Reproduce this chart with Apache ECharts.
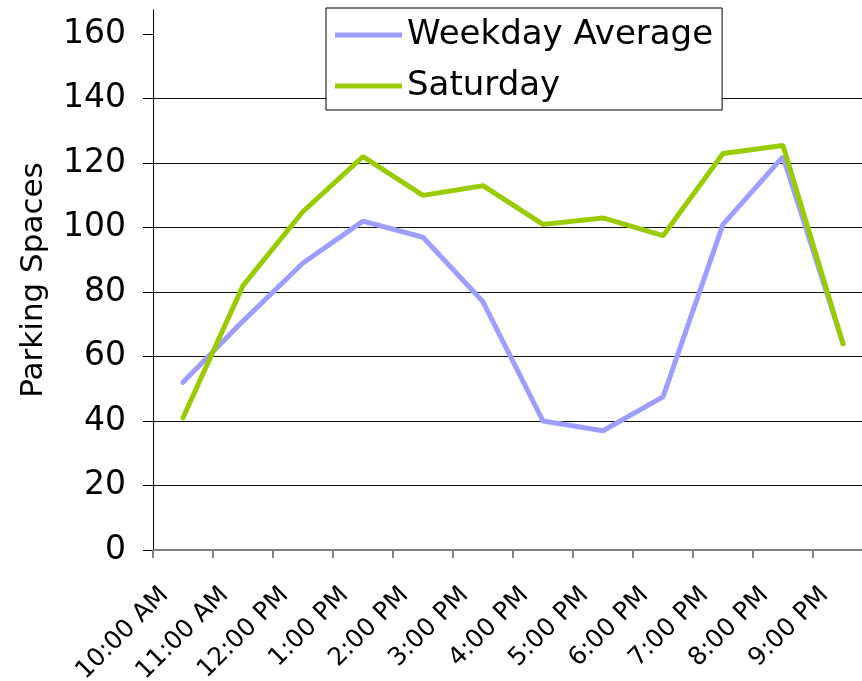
<!DOCTYPE html>
<html>
<head>
<meta charset="utf-8">
<script src="https://cdn.jsdelivr.net/npm/echarts@6/dist/echarts.min.js"></script>
<style>
  html, body { margin: 0; padding: 0; background: #fff; }
  #chart { width: 862px; height: 681px; }
</style>
</head>
<body>
<div id="chart"></div>
<script>
// 时间段
const hours = ['10:00 AM', '11:00 AM', '12:00 PM', '1:00 PM', '2:00 PM', '3:00 PM',
  '4:00 PM', '5:00 PM', '6:00 PM', '7:00 PM', '8:00 PM', '9:00 PM'];
// 工作日平均
const weekdayAvg = [52, 71, 89, 102, 97, 77, 40, 37, 47.5, 101, 122, 64];
// 周六
const saturday = [41, 82, 105, 122, 110, 113, 101, 103, 97.5, 123, 125.5, 64];
// y轴刻度
const yTicks = [0, 20, 40, 60, 80, 100, 120, 140, 160];

const font = 'DejaVu Sans, Verdana, sans-serif';
let myChart = echarts.init(document.getElementById('chart'));

myChart.setOption({
  animation: false,
  grid: {
    left: 153,
    top: 10,
    right: -11,
    bottom: 131,
    containLabel: false,
    outerBoundsMode: 'none'
  },
  legend: {
    orient: 'vertical',
    left: 326,
    top: 8,
    padding: [10, 9, 7, 9],
    itemGap: 17,
    itemWidth: 67,
    itemHeight: 5,
    icon: 'rect',
    backgroundColor: '#fff',
    borderColor: '#000',
    borderWidth: 1,
    textStyle: { fontFamily: font, fontSize: 34, lineHeight: 34, color: '#000' },
    data: ['Weekday Average', 'Saturday']
  },
  xAxis: {
    type: 'category',
    data: hours,
    boundaryGap: true,
    axisLine: { lineStyle: { color: '#808080', width: 2 } },
    axisTick: { show: true, length: 8, lineStyle: { color: '#808080', width: 2 } },
    axisLabel: {
      interval: 0, // 全部显示
      rotate: 45,
      margin: 23,
      padding: [0, 26, 0, 0],
      fontFamily: font,
      fontSize: 25,
      color: '#000'
    }
  },
  yAxis: {
    type: 'value',
    min: 0,
    max: 167.5,
    interval: 20,
    name: 'Parking Spaces',
    nameLocation: 'middle',
    nameGap: 104,
    nameTextStyle: { fontFamily: font, fontSize: 31, color: '#000' },
    axisLine: { show: true, lineStyle: { color: '#000', width: 1 } },
    axisTick: { show: true, length: 10, customValues: yTicks, lineStyle: { color: '#000' } },
    axisLabel: {
      customValues: yTicks,
      margin: 27,
      fontFamily: font,
      fontSize: 33,
      color: '#000'
    },
    splitLine: { show: true, showMaxLine: false, lineStyle: { color: '#111', width: 1 } }
  },
  series: [
    {
      name: 'Weekday Average',
      type: 'line',
      data: weekdayAvg,
      symbol: 'none',
      color: '#9e9eff',
      lineStyle: { width: 5, cap: 'round' }
    },
    {
      name: 'Saturday',
      type: 'line',
      data: saturday,
      symbol: 'none',
      color: '#99cc00',
      lineStyle: { width: 5, cap: 'round' }
    }
  ]
});
</script>
</body>
</html>
